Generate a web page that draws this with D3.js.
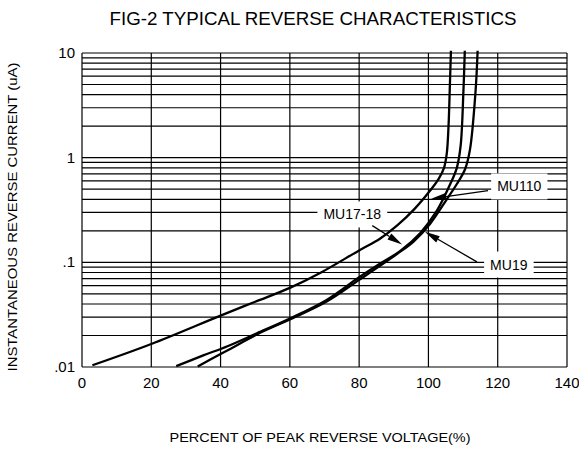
<!DOCTYPE html>
<html>
<head>
<meta charset="utf-8">
<script src="https://cdn.jsdelivr.net/npm/d3@7"></script>
<style>
  body { margin: 0; background: #fff; }
  text { font-family: "Liberation Sans", Arial, sans-serif; fill: #000; }
</style>
</head>
<body>
<div id="chart"></div>
<script>
// Percent of peak reverse voltage vs. reverse current (uA)
const curveA_x = [3, 20, 40, 50, 60, 69, 80, 86, 91, 96, 100.5, 103, 104.5, 105.3, 105.8, 106.2, 106.5];
const curveA_y = [0.0104, 0.0166, 0.031, 0.042, 0.057, 0.08, 0.13, 0.168, 0.225, 0.324, 0.485, 0.63, 0.8, 1.1, 2, 5, 10.5];

const curveB_x = [27.2, 35, 42, 50.5, 60, 70.5, 80, 86, 91.8, 97.6, 102.4, 106.3, 108.2, 109.3, 110.1, 110.5];
const curveB_y = [0.0102, 0.0129, 0.0158, 0.021, 0.029, 0.0435, 0.072, 0.097, 0.128, 0.19, 0.31, 0.56, 0.8, 1.3, 4.3, 10.5];

const curveC_x = [33.4, 40, 45, 50.5, 60, 70.5, 80, 90.9, 95.7, 100.5, 105.3, 108.2, 110.6, 112, 113.6, 114.2];
const curveC_y = [0.0101, 0.0133, 0.0163, 0.0205, 0.0285, 0.042, 0.068, 0.12, 0.158, 0.234, 0.40, 0.56, 0.78, 1.2, 4.3, 10.5];

const curves = [
  { x: curveA_x, y: curveA_y },
  { x: curveB_x, y: curveB_y },
  { x: curveC_x, y: curveC_y }
];

// callouts: label position, arrow start, arrow tip (data units)
const labelNames = ["MU110", "MU17-18", "MU19"];
const labelPos   = [[126.2, 0.53], [78, 0.286], [123.2, 0.095]];
const arrowFrom  = [[117.2, 0.485], [83.8, 0.224], [114, 0.101]];
const arrowTo    = [[100.8, 0.405], [92.4, 0.148], [99, 0.196]];

const xTicks = [0, 20, 40, 60, 80, 100, 120, 140];
const yTicks = [0.01, 0.1, 1, 10];
const yTickLabels = [".01", ".1", "1", "10"];

const W = 579, H = 453;
const margin = { left: 82, right: 12, top: 53, bottom: 86 };

const svg = d3.select('#chart').append('svg')
  .attr('width', W)
  .attr('height', H);

const x = d3.scaleLinear().domain([0, 140]).range([margin.left, W - margin.right]);
const y = d3.scaleLog().domain([0.01, 10]).range([H - margin.bottom, margin.top]);

// log grid: 1..9 in every decade
const gridY = [];
[0.01, 0.1, 1].forEach(dec => {
  for (let k = 1; k <= 9; k++) gridY.push(dec * k);
});
gridY.push(10);

const grid = svg.append('g').attr('class', 'grid')
  .style('stroke', '#000')
  .style('stroke-width', 1.2);

grid.selectAll('.hline')
  .data(gridY)
  .enter().append('line')
  .attr('class', 'hline')
  .attr('x1', x(0)).attr('x2', x(140))
  .attr('y1', d => y(d)).attr('y2', d => y(d));

grid.selectAll('.vline')
  .data(xTicks)
  .enter().append('line')
  .attr('class', 'vline')
  .attr('x1', d => x(d)).attr('x2', d => x(d))
  .attr('y1', y(10)).attr('y2', y(0.01));

// tick labels
svg.append('g').selectAll('text')
  .data(xTicks)
  .enter().append('text')
  .attr('x', d => x(d))
  .attr('y', y(0.01) + 21)
  .attr('text-anchor', 'middle')
  .style('font-size', '15px')
  .text(d => d);

svg.append('g').selectAll('text')
  .data(yTicks)
  .enter().append('text')
  .attr('x', margin.left - 7)
  .attr('y', d => y(d) + 5)
  .attr('text-anchor', 'end')
  .style('font-size', '15px')
  .text((d, i) => yTickLabels[i]);

// white boxes behind callout labels
const labelGroup = svg.append('g').attr('class', 'labels');

// curves
const line = d3.line()
  .x(d => x(d[0]))
  .y(d => y(d[1]))
  .curve(d3.curveCatmullRom.alpha(0.5));

svg.append('g').selectAll('path')
  .data(curves)
  .enter().append('path')
  .attr('d', c => line(c.x.map((v, i) => [v, c.y[i]])))
  .style('fill', 'none')
  .style('stroke', '#000')
  .style('stroke-width', 2.3);

labelNames.forEach((name, i) => {
  const t = labelGroup.append('text')
    .attr('x', x(labelPos[i][0]))
    .attr('y', y(labelPos[i][1]))
    .attr('dy', '0.35em')
    .attr('text-anchor', 'middle')
    .style('font-size', '14px')
    .text(name);
  const bb = t.node().getBBox();
  labelGroup.insert('rect', 'text')
    .attr('x', bb.x - 6).attr('y', bb.y - 5)
    .attr('width', bb.width + 12).attr('height', bb.height + 10)
    .style('fill', '#fff');
});

// arrows
const arrows = svg.append('g').attr('class', 'arrows');
labelNames.forEach((name, i) => {
  const x1 = x(arrowFrom[i][0]), y1 = y(arrowFrom[i][1]);
  const x2 = x(arrowTo[i][0]), y2 = y(arrowTo[i][1]);
  const ang = Math.atan2(y2 - y1, x2 - x1);
  const len = 15, half = 3.6;
  const bx = x2 - len * Math.cos(ang), by = y2 - len * Math.sin(ang);
  arrows.append('line')
    .attr('x1', x1).attr('y1', y1)
    .attr('x2', bx).attr('y2', by)
    .style('stroke', '#000').style('stroke-width', 1.3);
  arrows.append('path')
    .attr('d', `M${x2},${y2}L${bx - half * Math.sin(ang)},${by + half * Math.cos(ang)}L${bx + half * Math.sin(ang)},${by - half * Math.cos(ang)}Z`)
    .style('fill', '#000');
});

// titles
svg.append('text')
  .attr('x', 313)
  .attr('y', 25)
  .attr('text-anchor', 'middle')
  .attr('textLength', 407)
  .attr('lengthAdjust', 'spacingAndGlyphs')
  .style('font-size', '18px')
  .text('FIG-2 TYPICAL REVERSE CHARACTERISTICS');

svg.append('text')
  .attr('x', 320)
  .attr('y', 442)
  .attr('text-anchor', 'middle')
  .attr('textLength', 301)
  .attr('lengthAdjust', 'spacingAndGlyphs')
  .style('font-size', '13px')
  .text('PERCENT OF PEAK REVERSE VOLTAGE(%)');

svg.append('text')
  .attr('transform', 'translate(17,217) rotate(-90)')
  .attr('text-anchor', 'middle')
  .attr('textLength', 309)
  .attr('lengthAdjust', 'spacingAndGlyphs')
  .style('font-size', '13.5px')
  .text('INSTANTANEOUS REVERSE CURRENT (uA)');
</script>
</body>
</html>
